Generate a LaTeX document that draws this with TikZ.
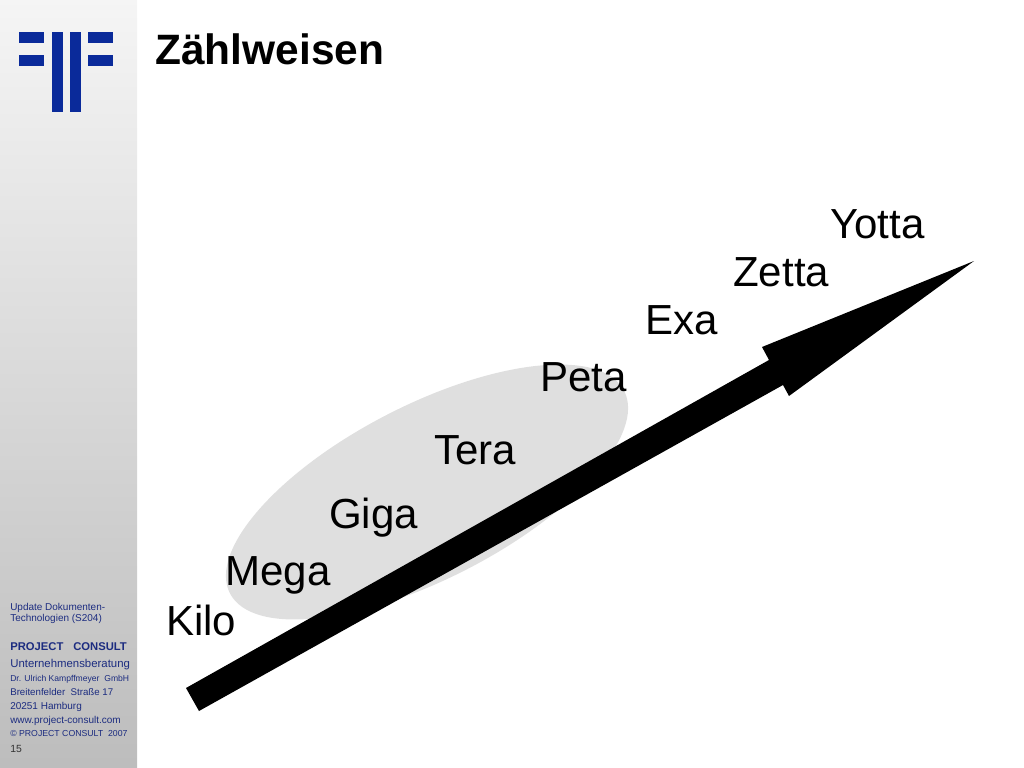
\documentclass[tikz,border=0pt]{standalone}
\usepackage{fontspec}
\setmainfont{Liberation Sans}
\definecolor{logoblue}{HTML}{0A2A9A}
\definecolor{sidetext}{HTML}{1C2C80}
\definecolor{blobgrey}{HTML}{DFDFDF}
\tikzset{
    zaehl/.style={anchor=base west, inner sep=0pt, font=\fontsize{29.9pt}{30pt}\selectfont},
    side/.style={anchor=base west, inner sep=0pt, text=sidetext},
    logobar/.style={fill=logoblue, draw=none},
}
\begin{document}
\begin{tikzpicture}[x=0.025cm, y=-0.025cm]
    \useasboundingbox (0,0) rectangle (1024,768);
    \shade[top color=white!96!black, bottom color=black!26!white] (0,0) rectangle (137,768);
    \foreach \x/\y in {19/32, 19/55, 88/32, 88/55} {
        \fill[logobar] (\x,\y) rectangle ++(25,11);
    }
    \fill[logobar] (52,32) rectangle (63,112);
    \fill[logobar] (70,32) rectangle (81,112);
    \node[anchor=base west, inner sep=0pt, font=\fontsize{30.2pt}{30pt}\selectfont\bfseries] (title) at (155,65) {Zählweisen};
    \fill[blobgrey, rotate around={27.2:(427,492)}] (427,492) ellipse (221.6 and 87);
    \node[zaehl] (kilo) at (166,635) {Kilo};
    \node[zaehl] (mega) at (225,585) {Mega};
    \node[zaehl] (giga) at (329,528) {Giga};
    \node[zaehl] (tera) at (434,464) {Tera};
    \node[zaehl] (peta) at (540,391) {Peta};
    \node[zaehl] (exa) at (645,334) {Exa};
    \node[zaehl] (zetta) at (733,286) {Zetta};
    \node[zaehl] (yotta) at (830,238) {Yotta};
    \fill (186,688) -- (769,360) -- (762,347) -- (974,261) -- (789,396) -- (783,385) -- (199,711) -- cycle;
    \node[side, font=\fontsize{7.1pt}{8pt}\selectfont] (update) at (10,610) {Update Dokumenten-};
    \node[side, font=\fontsize{7.1pt}{8pt}\selectfont] (techno) at (10,621) {Technologien (S204)};
    \node[side, font=\fontsize{8pt}{8pt}\selectfont\bfseries] (pc) at (10,650) {PROJECT\hspace{7pt}CONSULT};
    \node[side, font=\fontsize{8.1pt}{8pt}\selectfont] (ub) at (10,667) {Unternehmensberatung};
    \node[side, font=\fontsize{6.1pt}{8pt}\selectfont] (kff) at (10,681) {Dr. Ulrich Kampffmeyer\ \ GmbH};
    \node[side, font=\fontsize{6.9pt}{8pt}\selectfont] (str) at (10,695) {Breitenfelder\ \ Straße 17};
    \node[side, font=\fontsize{7.1pt}{8pt}\selectfont] (hh) at (10,709) {20251 Hamburg};
    \node[side, font=\fontsize{7.1pt}{8pt}\selectfont] (www) at (10,723) {www.project-consult.com};
    \node[side, font=\fontsize{6.2pt}{8pt}\selectfont] (copy) at (10,736) {© PROJECT CONSULT\ \ 2007};
    \node[side, text=black!80, font=\fontsize{7.4pt}{8pt}\selectfont] (page) at (10,752) {15};
\end{tikzpicture}
\end{document}
